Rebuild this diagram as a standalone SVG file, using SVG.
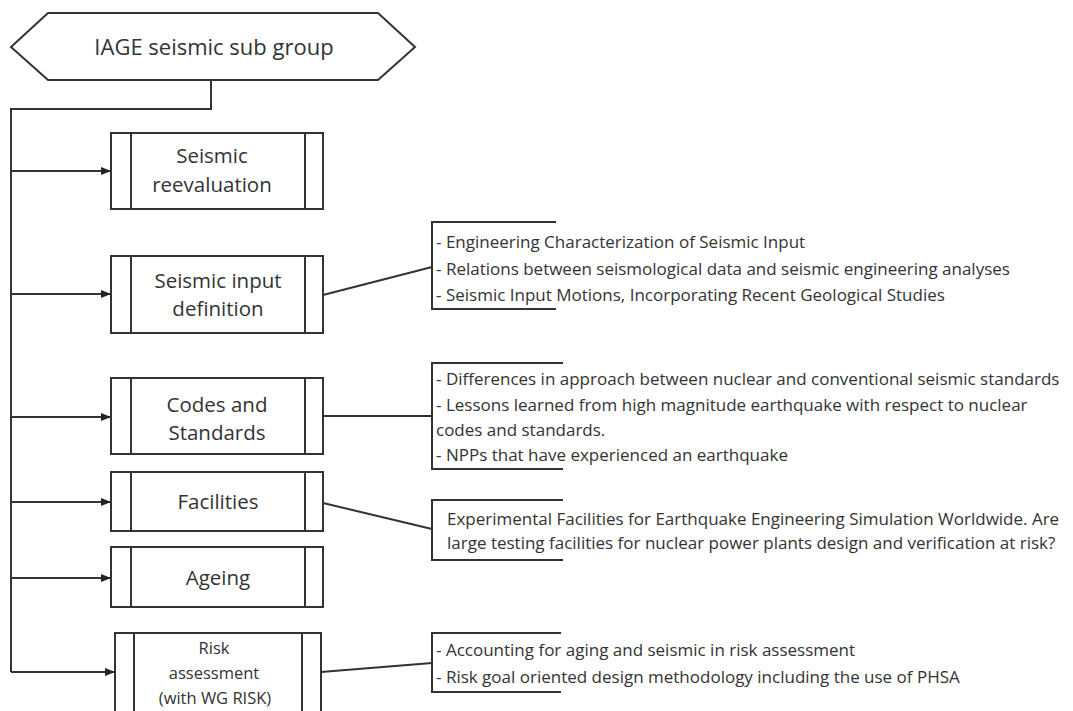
<svg xmlns="http://www.w3.org/2000/svg" width="1073" height="711" viewBox="0 0 1073 711">
<style>
.ln{fill:none;stroke:#333;stroke-width:2;stroke-linejoin:miter}
.bx{fill:#fff;stroke:#333;stroke-width:2}
.t{font-family:"Open Sans","Noto Sans",sans-serif;fill:#333}
.lbl{font-size:20.5px;text-anchor:middle}
.sm{font-size:16.5px;text-anchor:middle}
.note{font-size:17px}
</style>
<defs>
<marker id="arr" markerWidth="10" markerHeight="8" refX="10" refY="4" orient="auto" markerUnits="userSpaceOnUse">
<path d="M0,0 L10,4 L0,8 Z" fill="#222"/>
</marker>
</defs>
<rect width="1073" height="711" fill="#fff"/>

<g id="connectors">
<path class="ln" d="M211,80 V109 H11 V672"/>
<path class="ln" d="M11,171 H111" marker-end="url(#arr)"/>
<path class="ln" d="M11,294 H111" marker-end="url(#arr)"/>
<path class="ln" d="M11,417 H111" marker-end="url(#arr)"/>
<path class="ln" d="M11,502 H111" marker-end="url(#arr)"/>
<path class="ln" d="M11,578 H111" marker-end="url(#arr)"/>
<path class="ln" d="M11,672 H115" marker-end="url(#arr)"/>
<path class="ln" d="M323,295 L432,267"/>
<path class="ln" d="M323,416 H432"/>
<path class="ln" d="M323,503 L432,529"/>
<path class="ln" d="M321,672 L432,663"/>
</g>

<g id="title">
<polygon class="bx" points="11,47 48,13 378,13 415,47 378,80 48,80"/>
<text class="t" x="214" y="55" font-size="22" text-anchor="middle">IAGE seismic sub group</text>
</g>

<g id="seismic-reevaluation">
<rect class="bx" x="111" y="133" width="212" height="76"/>
<path class="ln" d="M131,133 V209 M305,133 V209"/>
<text class="t lbl" x="212" y="163">Seismic</text>
<text class="t lbl" x="212" y="192">reevaluation</text>
</g>

<g id="seismic-input-definition">
<rect class="bx" x="111" y="256" width="212" height="77"/>
<path class="ln" d="M131,256 V333 M305,256 V333"/>
<text class="t lbl" x="218" y="288">Seismic input</text>
<text class="t lbl" x="218" y="316">definition</text>
</g>

<g id="codes-and-standards">
<rect class="bx" x="111" y="378" width="212" height="76"/>
<path class="ln" d="M131,378 V454 M305,378 V454"/>
<text class="t lbl" x="217" y="412">Codes and</text>
<text class="t lbl" x="217" y="440">Standards</text>
</g>

<g id="facilities">
<rect class="bx" x="111" y="472" width="212" height="59"/>
<path class="ln" d="M131,472 V531 M305,472 V531"/>
<text class="t lbl" x="218" y="509">Facilities</text>
</g>

<g id="ageing">
<rect class="bx" x="111" y="547" width="212" height="60"/>
<path class="ln" d="M131,547 V607 M305,547 V607"/>
<text class="t lbl" x="218" y="585">Ageing</text>
</g>

<g id="risk-assessment">
<rect class="bx" x="115" y="633" width="206" height="90"/>
<path class="ln" d="M134,633 V723 M302,633 V723"/>
<text class="t sm" x="214" y="654">Risk</text>
<text class="t sm" x="214" y="679">assessment</text>
<text class="t sm" x="215" y="704">(with WG RISK)</text>
</g>

<g id="note-input">
<path class="ln" d="M556,222 H432 V309 H556"/>
<text class="t note" x="436" y="248">- Engineering Characterization of Seismic Input</text>
<text class="t note" x="436" y="275">- Relations between seismological data and seismic engineering analyses</text>
<text class="t note" x="436" y="301">- Seismic Input Motions, Incorporating Recent Geological Studies</text>
</g>

<g id="note-codes">
<path class="ln" d="M563,363 H432 V469 H563"/>
<text class="t note" x="436" y="385">- Differences in approach between nuclear and conventional seismic standards</text>
<text class="t note" x="436" y="411">- Lessons learned from high magnitude earthquake with respect to nuclear</text>
<text class="t note" x="436" y="436">codes and standards.</text>
<text class="t note" x="436" y="461">- NPPs that have experienced an earthquake</text>
</g>

<g id="note-facilities">
<path class="ln" d="M563,500 H432 V560 H563"/>
<text class="t note" x="447" y="525">Experimental Facilities for Earthquake Engineering Simulation Worldwide. Are</text>
<text class="t note" x="447" y="549">large testing facilities for nuclear power plants design and verification at risk?</text>
</g>

<g id="note-risk">
<path class="ln" d="M561,633 H432 V692 H561"/>
<text class="t note" x="436" y="656">- Accounting for aging and seismic in risk assessment</text>
<text class="t note" x="436" y="683">- Risk goal oriented design methodology including the use of PHSA</text>
</g>
</svg>
